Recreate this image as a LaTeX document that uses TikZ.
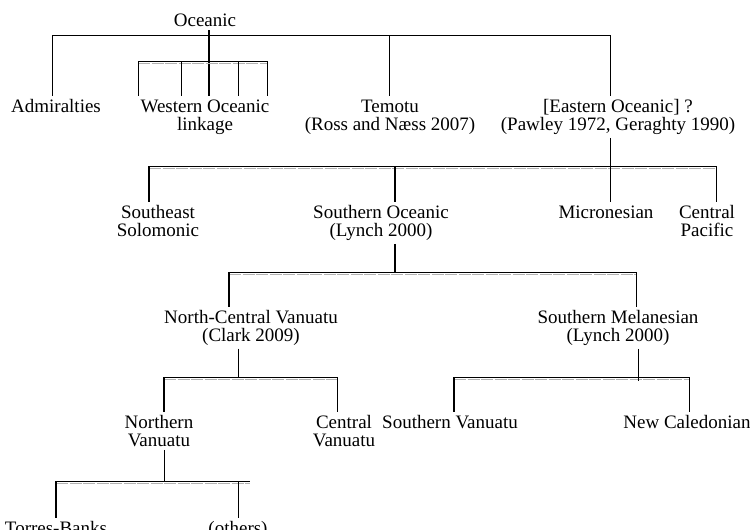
\documentclass[tikz,border=0pt]{standalone}
\usepackage{fontspec}
\setmainfont{Liberation Serif}
\tikzset{
  lbl/.style={align=center, anchor=base, inner sep=3pt, font=\fontsize{19}{18.5}\selectfont},
  ln/.style={line width=1pt},
  main/.style={line width=1.8pt},
  bar/.style={line width=0.9pt},
  barshade/.style={gray!60, line width=1pt, dash pattern=on 12pt off 1.5pt}
}
\newcommand{\linkbar}[2]{%
  \draw[barshade] ([yshift=-2.5pt]#1) -- ([yshift=-2.5pt]#2);
  \draw[bar] (#1) -- (#2);}
\begin{document}
\begin{tikzpicture}[x=1pt,y=-1pt]
\useasboundingbox (0,0) rectangle (750,530);

% labels (two-line labels sit on their last baseline)
\node[lbl] (ocean) at (205,27) {Oceanic};

\node[lbl] (adm) at (56,112) {Admiralties};
\node[lbl] (wol) at (205,130.5) {Western Oceanic\\linkage};
\node[lbl] (tem) at (390,130.5) {Temotu\\(Ross and Næss 2007)};
\node[lbl] (eoc) at (618,130.5) {[Eastern Oceanic] ?\\(Pawley 1972, Geraghty 1990)};

\node[lbl] (ses) at (158,236.5) {Southeast\\Solomonic};
\node[lbl] (soc) at (381,236.5) {Southern Oceanic\\(Lynch 2000)};
\node[lbl] (mic) at (606,218) {Micronesian};
\node[lbl] (cpac) at (707,236.5) {Central\\Pacific};

\node[lbl] (ncv) at (251,341.5) {North-Central Vanuatu\\(Clark 2009)};
\node[lbl] (smel) at (618,341.5) {Southern Melanesian\\(Lynch 2000)};

\node[lbl] (nvan) at (159,446.5) {Northern\\Vanuatu};
\node[lbl] (cvan) at (344,446.5) {Central\\Vanuatu};
\node[lbl] (svan) at (450,428) {Southern Vanuatu};
\node[lbl] (ncal) at (687,428) {New Caledonian};

\node[lbl] (tb) at (56,534) {Torres-Banks};
\node[lbl] (oth) at (238,534) {(others)};

% Oceanic
\coordinate (t-l) at (52,35);
\coordinate (t-m) at (389,35);
\coordinate (t-r) at (610,35);
\coordinate (t-o) at (209,35);
\draw[ln] (t-l |- adm.north) -- (t-l) -- (t-r) -- (t-r |- eoc.north);
\draw[ln] (t-m) -- (t-m |- tem.north);
\draw[main] (t-o |- ocean.south) -- (t-o |- wol.north);

% Western Oceanic linkage
\coordinate (w-l) at (138,61);
\coordinate (w-r) at (268,61);
\linkbar{w-l}{w-r}
\foreach \x in {138,181,238,267}
  \draw[ln] (\x,61) -- (\x,61 |- wol.north);

% Eastern Oceanic
\coordinate (e-l) at (149,166);
\coordinate (e-m) at (395,166);
\coordinate (e-r) at (716,166);
\coordinate (e-o) at (610,166);
\linkbar{e-l}{e-r}
\draw[main] (e-l) -- (e-l |- ses.north);
\draw[main] (e-m) -- (e-m |- soc.north);
\draw[ln] (e-r) -- (e-r |- cpac.north);
\draw[ln] (e-o |- eoc.south) -- (e-o |- mic.north);

% Southern Oceanic
\coordinate (s-l) at (229,272);
\coordinate (s-r) at (636,272);
\coordinate (s-o) at (395,272);
\linkbar{s-l}{s-r}
\draw[main] (s-o |- soc.south) -- (s-o);
\draw[main] (s-l) -- (s-l |- ncv.north);
\draw[ln] (s-r) -- (s-r |- smel.north);

% North-Central Vanuatu
\coordinate (n-l) at (164,377);
\coordinate (n-r) at (337,377);
\coordinate (n-o) at (238,377);
\linkbar{n-l}{n-r}
\draw[ln] (n-o |- ncv.south) -- (n-o);
\draw[main] (n-l) -- (n-l |- nvan.north);
\draw[ln] (n-r) -- (n-r |- cvan.north);

% Southern Melanesian
\coordinate (m-l) at (454,377);
\coordinate (m-r) at (689,377);
\coordinate (m-o) at (638,381);
\linkbar{m-l}{m-r}
\draw[ln] (m-o |- smel.south) -- (m-o);
\draw[main] (m-l) -- (m-l |- svan.north);
\draw[ln] (m-r) -- (m-r |- ncal.north);

% Northern Vanuatu
\coordinate (v-l) at (56,481);
\coordinate (v-r) at (250,481);
\coordinate (v-o) at (164,481);
\linkbar{v-l}{v-r}
\draw[ln] (v-o |- nvan.south) -- (v-o);
\draw[main] (v-l) -- (v-l |- tb.north);
\draw[ln] (238,481) -- (238,481 |- oth.north);

\end{tikzpicture}
\end{document}
